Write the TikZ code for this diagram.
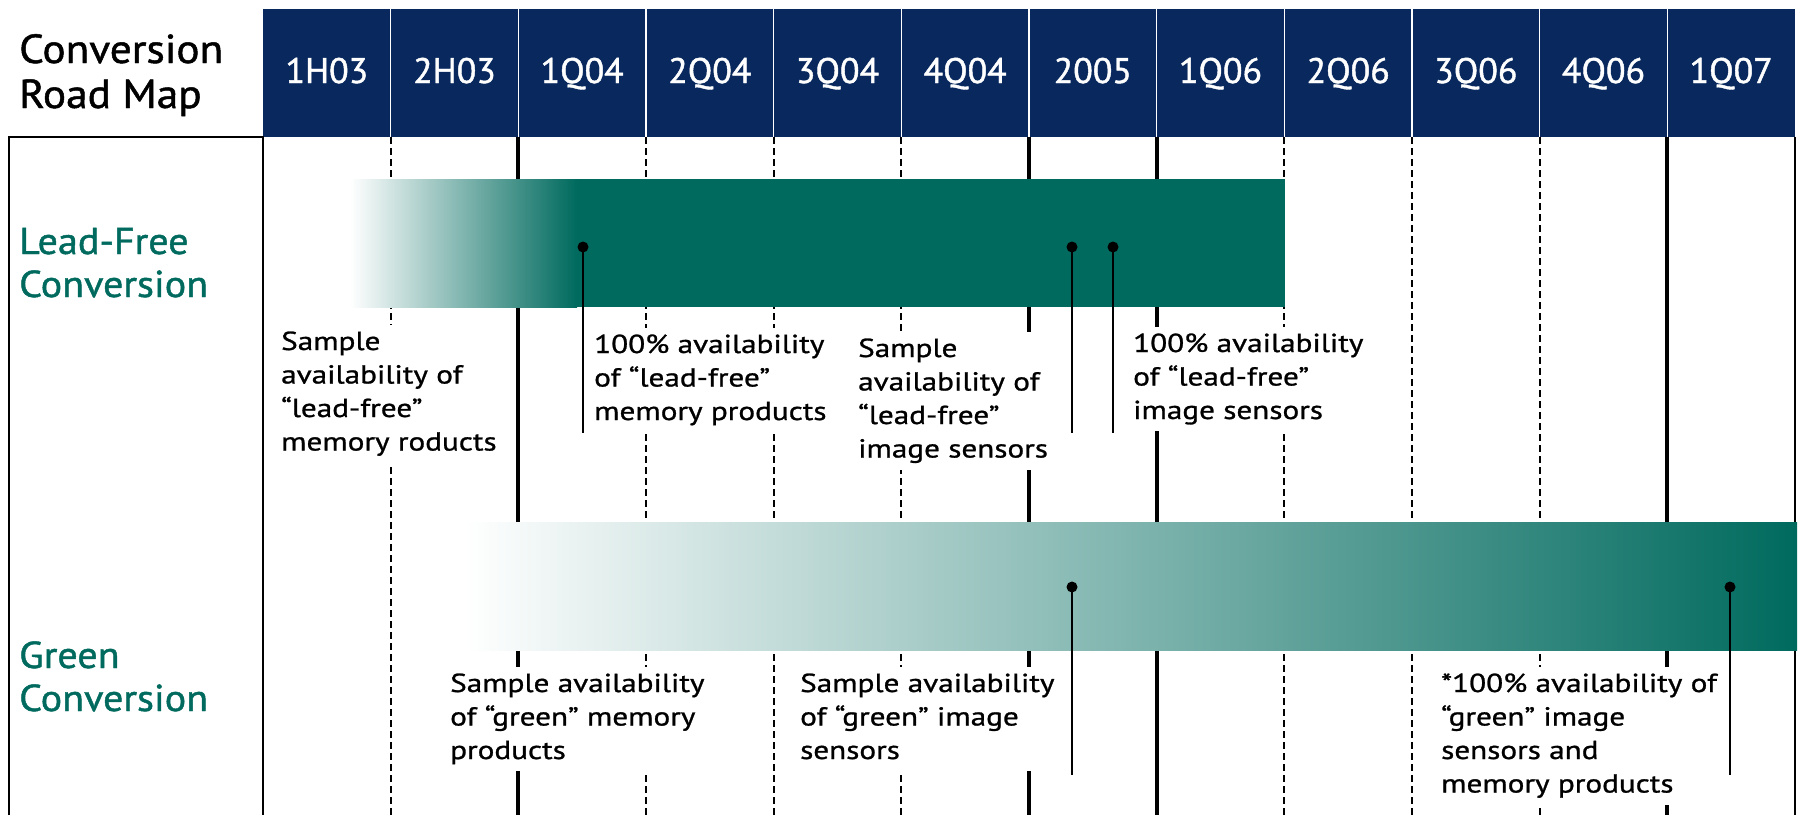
\documentclass[tikz,border=0pt]{standalone}
\usepackage{fontspec}
\setmainfont{PT Sans}
\newfontfamily\lblf[FakeStretch=1.2,FakeBold=1]{PT Sans}
\newfontfamily\ttlf[FakeStretch=1.07,FakeBold=1.2]{PT Sans}
\newfontfamily\hdrf[FakeStretch=1.01,FakeBold=1.2]{PT Sans}
\definecolor{navyc}{RGB}{9,41,94}
\definecolor{tealc}{RGB}{0,106,94}
\tikzset{
  hdr/.style={text=white, font=\hdrf\fontsize{35.5}{40}\selectfont, anchor=base, inner sep=0pt},
  rowlbl/.style={text=tealc, font=\ttlf\fontsize{37.5}{43}\selectfont, anchor=base west, inner sep=0pt},
  lbl/.style={fill=white, font=\lblf\fontsize{26}{33.5}\selectfont, anchor=base west, inner xsep=2pt, inner ysep=2pt},
  dashline/.style={line width=2pt, dash pattern=on 7pt off 4pt},
  thickline/.style={line width=4pt},
  thinline/.style={line width=1.6pt},
  dotc/.style={circle, fill=black, inner sep=0pt, minimum size=11pt},
  leader/.style={line width=1.6pt}
}
\newcommand{\lines}[1]{\begin{tabular}[t]{@{}l@{}}#1\end{tabular}}
\begin{document}
\begin{tikzpicture}[x=1pt,y=-1pt]
\useasboundingbox (0,0) rectangle (1799,815);
% header
\fill[navyc] (263,9) rectangle (1795,137);
\foreach \i in {1,...,11} {
  \draw[white, line width=1.2pt] ({263+127.667*\i},9) -- ({263+127.667*\i},137);
}
\foreach \t [count=\i from 0] in {1H03,2H03,1Q04,2Q04,3Q04,4Q04,2005,1Q06,2Q06,3Q06,4Q06,1Q07} {
  \node[hdr] (h\i) at ({263+127.667*(\i+0.5)},83) {\t};
}
\node[anchor=base west, inner sep=0pt, font=\ttlf\fontsize{40.5}{45}\selectfont] (title) at (19,63) {\lines{Conversion\\Road Map}};
% left box
\draw[thinline] (9,815) -- (9,137) -- (263,137) -- (263,815);
\draw[thinline] (1795,137) -- (1795,815);
% grid lines
\foreach \i in {1,3,4,5,8,9,10} {
  \draw[dashline] ({263+127.667*\i},137) -- ({263+127.667*\i},815);
}
\foreach \i in {2,6,7,11} {
  \draw[thickline] ({263+127.667*\i},137) -- ({263+127.667*\i},815);
}
% bars
\fill[tealc] (570,179) rectangle (1285,307);
\shade[left color=white, right color=tealc] (350,179) rectangle (577,307);
\shade[left color=white, right color=tealc] (465,522) rectangle (1797,650);
% row labels
\node[rowlbl] (lf) at (19,254) {\lines{Lead-Free\\Conversion}};
\node[rowlbl] (gr) at (19,668) {\lines{Green\\Conversion}};
% lead-free texts
\node[lbl] (l1) at (279,350) {\lines{Sample\\availability of\\“lead-free”\\memory roducts}};
\node[lbl] (l2) at (592,353) {\lines{100\% availability\\of “lead-free”\\memory products}};
\node[lbl] (l3) at (856,357) {\lines{Sample\\availability of\\“lead-free”\\image sensors}};
\node[lbl] (l4) at (1131,352) {\lines{100\% availability\\of “lead-free”\\image sensors}};
% green texts
\node[lbl] (g1) at (448,692) {\lines{Sample availability\\of “green” memory\\products}};
\node[lbl] (g2) at (798,692) {\lines{Sample availability\\of “green” image\\sensors}};
\node[lbl] (g3) at (1439,692) {\lines{*100\% availability of\\“green” image\\sensors and\\memory products}};
% dots and leaders
\node[dotc] (d1) at (583,247) {};
\node[dotc] (d2) at (1072,247) {};
\node[dotc] (d3) at (1113,247) {};
\node[dotc] (d4) at (1072,587) {};
\node[dotc] (d5) at (1730,587) {};
\coordinate (e1) at (583,433);
\coordinate (e2) at (1072,433);
\coordinate (e3) at (1113,433);
\coordinate (e4) at (1072,775);
\coordinate (e5) at (1730,775);
\foreach \k in {1,...,5} { \draw[leader] (d\k.center) -- (e\k); }
\end{tikzpicture}
\end{document}
